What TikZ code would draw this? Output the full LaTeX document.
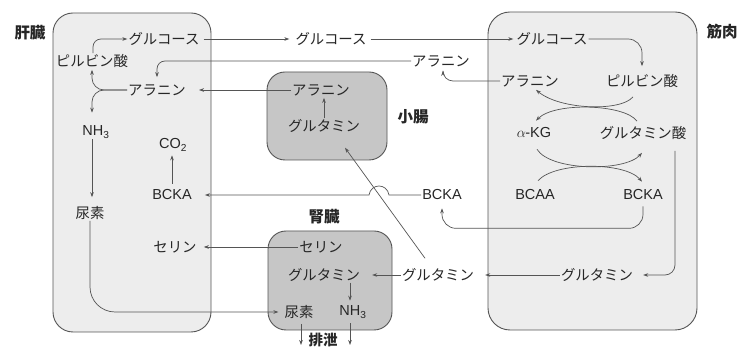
\documentclass[tikz,border=0pt]{standalone}
\usepackage{fontspec}
\setmainfont{Liberation Sans}
\newfontfamily\jp{Noto Sans CJK JP}
\usetikzlibrary{arrows.meta,calc}
\definecolor{ink}{HTML}{262626}
\definecolor{lncol}{HTML}{555555}
\definecolor{boxlight}{HTML}{EDEDED}
\definecolor{boxdark}{HTML}{C6C6C6}
\begin{document}
\begin{tikzpicture}[x=1pt,y=-1pt,
  j/.style={font={\jp\fontsize{14.4}{17}\selectfont}, text=ink, inner sep=1pt},
  l/.style={font={\fontsize{14.5}{17}\selectfont}, text=ink, inner sep=1pt},
  lab/.style={font={\jp\bfseries\fontsize{15.5}{18}\selectfont}, text=ink, inner sep=0pt},
  organ/.style={draw=lncol, line width=0.9pt},
  arr/.style={draw=lncol, line width=0.7pt, -{Stealth[length=5pt,width=3.6pt]}}]
\fill[white] (0,0) rectangle (740,347);
\useasboundingbox (0,0) rectangle (740,347);
% organ boxes
\draw[organ, fill=boxlight, rounded corners=20pt] (53,13) rectangle (211,332);
\draw[organ, fill=boxlight, rounded corners=22pt] (488,12) rectangle (697,330);
\draw[organ, fill=boxdark, rounded corners=18pt] (267,72) rectangle (387,160);
\draw[organ, fill=boxdark, rounded corners=18pt] (268,231) rectangle (392,330);
% labels
\node[lab] (tliver) at (30,33) {肝臓};
\node[lab] (tmus) at (722,32) {筋肉};
\node[lab] (tint) at (413,117) {小腸};
\node[lab] (tkid) at (324,217) {腎臓};
\node[lab, font={\jp\bfseries\fontsize{14.5}{17}\selectfont}] (texc) at (323,340) {排泄};
% liver
\node[j] (lglu) at (164,39) {グルコース};
\node[j] (lpyr) at (92,61) {ピルビン酸};
\node[j] (lala) at (157,90) {アラニン};
\node[l] (lnh3) at (96,132) {NH\textsubscript{3}};
\node[l] (lco2) at (173,145) {CO\textsubscript{2}};
\node[l] (lbcka) at (172,195) {BCKA};
\node[j] (lurea) at (90,213) {尿素};
\node[j] (lser) at (175,247) {セリン};
% small intestine
\node[j] (iala) at (321,90) {アラニン};
\node[j] (igln) at (324,126) {グルタミン};
% middle
\node[j] (mglu) at (331,39) {グルコース};
\node[j] (mala) at (441,61) {アラニン};
\node[l] (mbcka) at (442,195) {BCKA};
\node[j] (mgln) at (438,275) {グルタミン};
% kidney
\node[j] (kser) at (321,247) {セリン};
\node[j] (kgln) at (324,275) {グルタミン};
\node[j] (kurea) at (299,312) {尿素};
\node[l] (knh3) at (353,312) {NH\textsubscript{3}};
\coordinate (ex1) at (301,345);
\coordinate (ex2) at (350,345);
% muscle
\node[j] (uglu) at (552,39) {グルコース};
\node[j] (uala) at (530,81) {アラニン};
\node[j] (upyr) at (642,81) {ピルビン酸};
\node[l] (uakg) at (534,133) {$\alpha$\kern-0.5pt-KG};
\node[j] (uglu2) at (643,133) {グルタミン酸};
\node[l] (ubcaa) at (535,195) {BCAA};
\node[l] (ubcka) at (643,195) {BCKA};
\node[j] (ugln) at (597,275) {グルタミン};
% ---- connectors: liver
\draw[arr, rounded corners=8pt] ($(lpyr.north)+(1,0)$) |- (lglu.west);
\draw[arr, rounded corners=12pt, shorten >=1pt] (lala.west) -| (lpyr.south);
\draw[arr, rounded corners=12pt, shorten >=12pt] (lala.west) -| (lpyr.south |- lnh3.north);
\draw[arr, shorten >=8pt] (lpyr.south |- lnh3.south) -- (lpyr.south |- lurea.north);
\draw[arr, shorten <=5pt, shorten >=3pt] (lbcka.north) -- (lbcka.north |- lco2.south);
\draw[arr, rounded corners=25pt, shorten >=5pt] (lurea.south) |- (kurea.west);
% glucose flow
\draw[arr, shorten <=3pt, shorten >=5pt] (lglu.east) -- (mglu.west);
\draw[arr, shorten <=3pt, shorten >=2pt] (mglu.east) -- (uglu.west);
% alanine flows
\draw[arr, rounded corners=8pt, shorten >=6pt] (mala.west) -| (lala.north);
\draw[arr, rounded corners=10pt, shorten >=3pt] (uala.west) -| ($(mala.south)+(2,0)$);
\draw[arr, shorten >=12pt] (iala.west) -- (lala.east);
\draw[arr, shorten >=1pt] (igln.north) -- (igln.north |- iala.south);
% glutamine flows
\draw[arr, shorten >=10pt] (ugln.west) -- (mgln.east);
\draw[arr, shorten >=11pt] (mgln.west) -- (kgln.east);
\draw[arr] ($(mgln.north)+(-13,-9)$) -- ($(igln.south)+(21,14)$);
% BCKA flows
\draw[arr, shorten >=12pt] (mbcka.west) -- (389,195) .. controls (387,183) and (371,183) .. (369,195) -- (lbcka.east);
\draw[arr, rounded corners=14pt, shorten >=7pt] ($(ubcka.south)+(0,5)$) |- ($(mbcka.south)+(0,27)$) -- (mbcka.south);
% kidney
\draw[arr, shorten >=6pt] (kser.west) -- (lser.east);
\draw[arr, shorten >=4pt] (ex2 |- kgln.south) -- (ex2 |- knh3.north);
\draw[arr, shorten <=4pt] (ex1 |- kurea.south) -- (ex1);
\draw[arr, shorten <=4pt] (ex2 |- knh3.south) -- (ex2);
% muscle
\draw[arr, rounded corners=14pt, shorten >=7pt] (uglu.east) -| (upyr.north);
\draw[arr] ($(upyr.south)+(-9,8)$) .. controls +(-12,15) and +(24,20) .. ($(uala.south)+(6,2)$);
\draw[arr] ($(uglu2.north)+(-6,-4)$) .. controls +(-12,-17) and +(19,-19) .. ($(uakg.north)+(2,-6)$);
\draw[arr] ($(uakg.south)+(3,10)$) .. controls +(14,22) and +(-17,19) .. ($(uglu2.south)+(-1,12)$);
\draw[arr] ($(ubcaa.north)+(3,-8)$) .. controls +(17,-19) and +(-17,-20) .. ($(ubcka.north)+(-1,-7)$);
\draw[arr, rounded corners=10pt, shorten >=9pt] ($(uglu2.south)+(32,10)$) |- (ugln.east);
\end{tikzpicture}
\end{document}
